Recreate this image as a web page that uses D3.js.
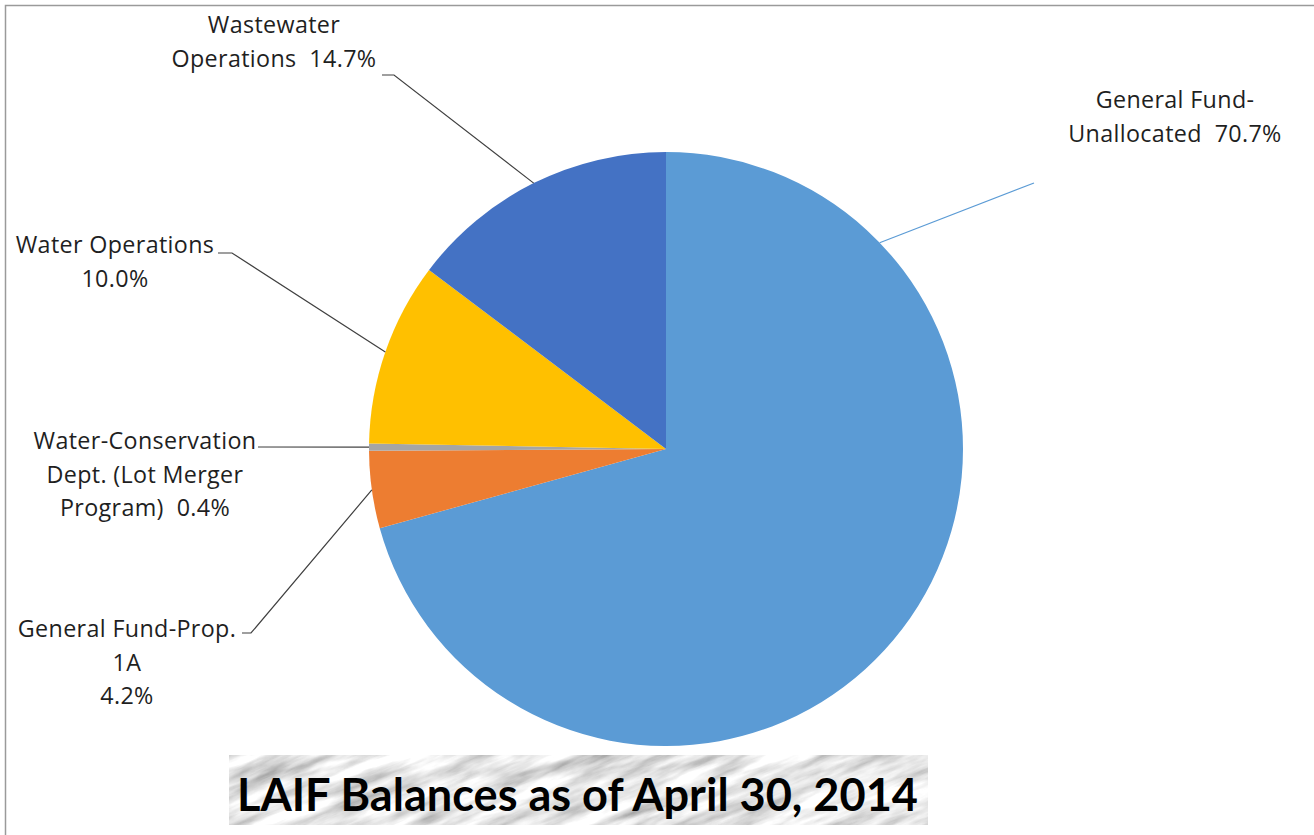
<!DOCTYPE html>
<html><head><meta charset="utf-8">
<script src="https://cdn.jsdelivr.net/npm/d3@7"></script>
<style>html,body{margin:0;padding:0;background:#fff;}svg{display:block;}</style>
</head><body>
<svg id="c" width="1314" height="835"></svg>
<script>
const categories = ["General Fund-Unallocated","General Fund-Prop. 1A","Water-Conservation Dept. (Lot Merger Program)","Water Operations","Wastewater Operations"];
const shares = [70.7, 4.2, 0.4, 10.0, 14.7];
const colors = ["#5B9BD5","#ED7D31","#A5A5A5","#FFC000","#4472C4"];
const labelLines = [
  ["General Fund-","Unallocated  70.7%"],
  ["General Fund-Prop.","1A","4.2%"],
  ["Water-Conservation","Dept. (Lot Merger","Program)  0.4%"],
  ["Water Operations","10.0%"],
  ["Wastewater","Operations  14.7%"]
];
const title = "LAIF Balances as of April 30, 2014";

const svg = d3.select("#c");
const W = 1314, H = 835;
const cx = 666, cy = 449, R = 297;

svg.append("path").attr("d", `M5.5,${H} V5.5 H${W}`).attr("fill","none").attr("stroke","#9a9a9a").attr("stroke-width",1.5);

const pie = d3.pie().sort(null).value(d => d)(shares);
const arc = d3.arc().innerRadius(0).outerRadius(R);
const g = svg.append("g").attr("transform", `translate(${cx},${cy})`);
g.selectAll("path").data(pie).join("path").attr("d", arc).attr("fill", (d,i) => colors[i]);

const layout = [
  {x:1175, y:108, elbow:[1034,183], ang: 46*Math.PI/180, stroke:"#5B9BD5", hz:0},
  {x:127, y:637, elbow:[242,633], stroke:"#404040", hz:9},
  {x:145, y:449, elbow:[258,447], stroke:"#404040", hz:0},
  {x:115, y:253, elbow:[218,253], stroke:"#404040", hz:14},
  {x:274, y:33, elbow:[382,75], stroke:"#404040", hz:12}
];
const lh = 33.5;
const fontFam = "'Open Sans', sans-serif";
pie.forEach((d,i) => {
  const L = layout[i];
  const t = svg.append("text").attr("x", L.x).attr("y", L.y).attr("text-anchor", "middle")
    .attr("font-family", fontFam).attr("font-size", 23.3).attr("letter-spacing", 0.35)
    .attr("fill", "#1f1f1f").style("white-space","pre");
  labelLines[i].forEach((s,k) => t.append("tspan").attr("x", L.x).attr("dy", k===0?0:lh).text(s));
  const a = L.ang !== undefined ? L.ang : (d.startAngle + d.endAngle)/2;
  const px = cx + R*Math.sin(a), py = cy - R*Math.cos(a);
  const [ex, ey] = L.elbow;
  const pts = L.hz ? [[ex,ey],[ex+L.hz,ey],[px,py]] : [[ex,ey],[px,py]];
  svg.append("path").attr("d", d3.line()(pts)).attr("fill","none").attr("stroke", L.stroke).attr("stroke-width",1.2);
});

// marble title box
const bx = 229, by = 755, bw = 699, bh = 70;
const defs = svg.append("defs");
defs.append("clipPath").attr("id","tclip").append("rect").attr("x",bx).attr("y",by).attr("width",bw).attr("height",bh);
const f = defs.append("filter").attr("id","marble").attr("x",0).attr("y",0).attr("width","100%").attr("height","100%");
f.append("feTurbulence").attr("type","fractalNoise").attr("baseFrequency","0.012 0.07").attr("numOctaves",5).attr("seed",3).attr("result","n");
f.append("feColorMatrix").attr("in","n").attr("type","matrix")
  .attr("values","1.3 0 0 0 0.14  1.3 0 0 0 0.14  1.3 0 0 0 0.14  0 0 0 0 1").attr("result","m");
const mg = svg.append("g").attr("clip-path","url(#tclip)");
mg.append("rect").attr("x",bx-200).attr("y",by-300).attr("width",bw+400).attr("height",bh+600)
  .attr("fill","#ccc").attr("filter","url(#marble)")
  .attr("transform",`rotate(-22 ${bx+bw/2} ${by+bh/2})`);
svg.append("text").attr("x",237).attr("y",811).attr("font-family","Lato, sans-serif").attr("font-weight","bold")
  .attr("font-size",46).attr("fill","#000").attr("textLength",681).attr("lengthAdjust","spacingAndGlyphs").text(title);
</script>
</body></html>
